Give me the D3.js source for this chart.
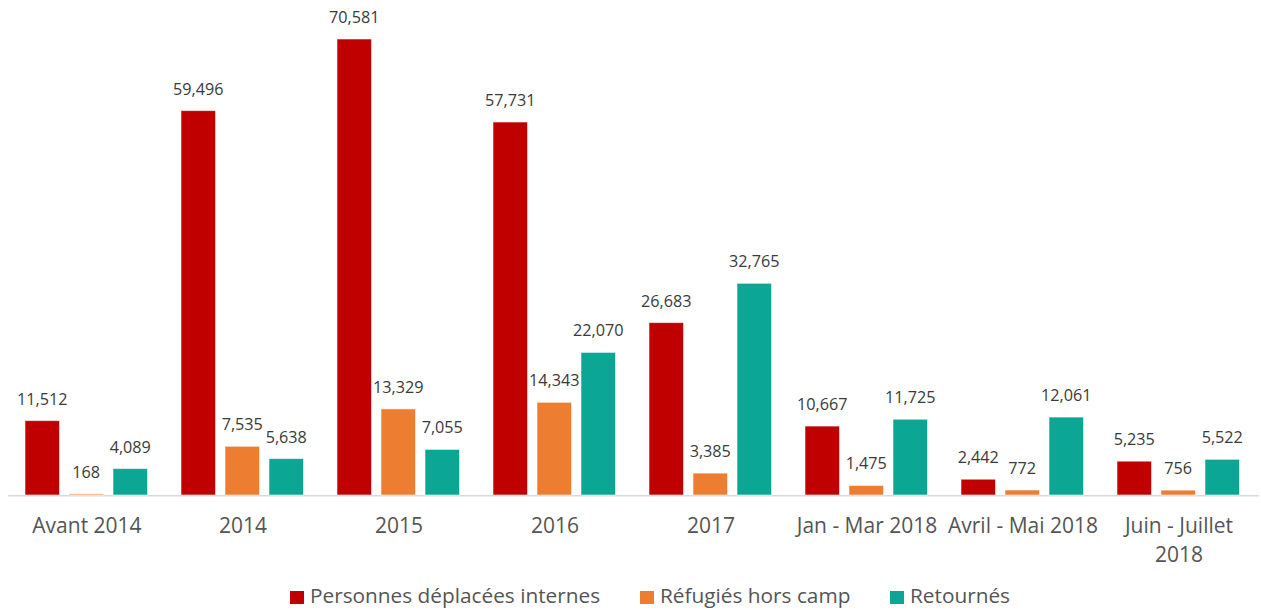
<!DOCTYPE html>
<html>
<head>
<meta charset="utf-8">
<script src="https://cdn.jsdelivr.net/npm/d3@7"></script>
<style>
  html, body { margin: 0; padding: 0; background: #fff; }
  svg { display: block; font-family: "Open Sans", sans-serif; }
</style>
</head>
<body>
<svg id="chart" width="1261" height="610"></svg>
<script>
const categories = [["Avant 2014"], ["2014"], ["2015"], ["2016"], ["2017"], ["Jan - Mar 2018"], ["Avril - Mai 2018"], ["Juin - Juillet", "2018"]];
const seriesNames = ["Personnes déplacées internes", "Réfugiés hors camp", "Retournés"];
const deplacees = [11512, 59496, 70581, 57731, 26683, 10667, 2442, 5235];
const refugies = [168, 7535, 13329, 14343, 3385, 1475, 772, 756];
const retournes = [4089, 5638, 7055, 22070, 32765, 11725, 12061, 5522];
const colors = ["#c00000", "#ed7d31", "#0ba794"];

const svg = d3.select("#chart");
const catKeys = categories.map(c => c.join(" "));
const seriesData = [deplacees, refugies, retournes];

const x0 = d3.scaleBand().domain(catKeys).range([9, 1257]).padding(0);
const x1 = d3.scaleBand().domain(seriesNames).range([16, 138.5]).paddingInner(0.216).paddingOuter(0);
const y = d3.scaleLinear().domain([0, 70000]).range([495, 495 - 452.25]);
const fmt = d3.format(",");

// baseline axis
svg.append("line")
  .attr("x1", 8).attr("x2", 1259)
  .attr("y1", y(0) + 0.75).attr("y2", y(0) + 0.75)
  .attr("stroke", "#d9d9d9").attr("stroke-width", 1.5);

const groups = svg.selectAll("g.grp").data(catKeys).enter().append("g")
  .attr("class", "grp")
  .attr("transform", d => `translate(${x0(d)},0)`);

groups.each(function(cat, i) {
  const g = d3.select(this);
  const vals = seriesNames.map((s, k) => ({ s, k, v: seriesData[k][i] }));
  g.selectAll("rect").data(vals).enter().append("rect")
    .attr("x", d => x1(d.s))
    .attr("width", x1.bandwidth())
    .attr("y", d => y(d.v))
    .attr("height", d => y(0) - y(d.v))
    .attr("fill", d => colors[d.k])
    .attr("stroke", "#ffffff")
    .attr("stroke-opacity", 0.55)
    .attr("stroke-width", 1);
  g.selectAll("text.val").data(vals).enter().append("text")
    .attr("class", "val")
    .attr("x", d => x1(d.s) + x1.bandwidth() / 2)
    .attr("y", d => y(d.v) - 16)
    .attr("text-anchor", "middle")
    .attr("font-size", 16.2)
    .attr("fill", "#3a3a3a")
    .text(d => fmt(d.v));
});

// category labels
categories.forEach((lines, i) => {
  const t = svg.append("text")
    .attr("x", x0(catKeys[i]) + x0.bandwidth() / 2)
    .attr("y", 533)
    .attr("text-anchor", "middle")
    .attr("font-size", 21)
    .attr("fill", "#555555");
  lines.forEach((ln, j) => {
    t.append("tspan")
      .attr("x", x0(catKeys[i]) + x0.bandwidth() / 2)
      .attr("dy", j === 0 ? 0 : 28.5)
      .text(ln);
  });
});

// legend
const legendX = [290, 640, 890];
const leg = svg.selectAll("g.leg").data(seriesNames).enter().append("g")
  .attr("class", "leg")
  .attr("transform", (d, i) => `translate(${legendX[i]},0)`);
leg.append("rect")
  .attr("x", 0).attr("y", 591)
  .attr("width", 14).attr("height", 13)
  .attr("fill", (d, i) => colors[i]);
leg.append("text")
  .attr("x", 20).attr("y", 602.5)
  .attr("font-size", 20.8)
  .attr("fill", "#555555")
  .text(d => d);
</script>
</body>
</html>
